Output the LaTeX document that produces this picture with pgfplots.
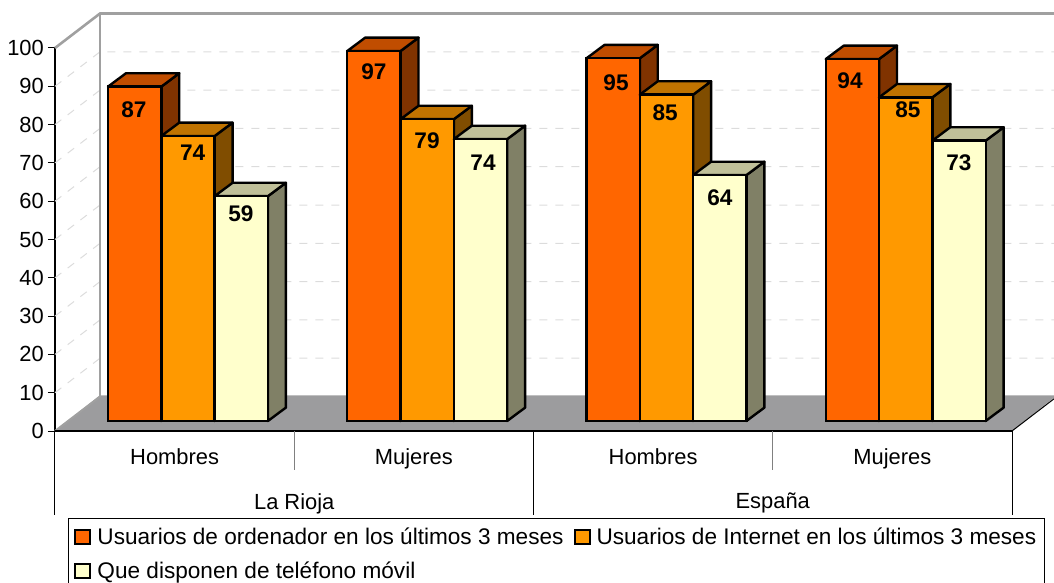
\documentclass[border=0pt]{standalone}
\usepackage{fontspec}
\setmainfont{Liberation Sans}
\usepackage{pgfplots}
\pgfplotsset{compat=1.18}
\definecolor{cA}{HTML}{FF6600}\definecolor{cAt}{HTML}{C04D00}\definecolor{cAs}{HTML}{803300}
\definecolor{cB}{HTML}{FF9900}\definecolor{cBt}{HTML}{C07300}\definecolor{cBs}{HTML}{804D00}
\definecolor{cC}{HTML}{FFFFCC}\definecolor{cCt}{HTML}{C0C099}\definecolor{cCs}{HTML}{808066}
\definecolor{wall}{HTML}{A0A0A0}\definecolor{floorc}{HTML}{9C9C9E}\definecolor{gridc}{HTML}{DCDCDC}
\newcommand\faces[4]{%
  \pgfmathsetmacro\xb{#1+0.2228}\pgfmathsetmacro\xc{#1+0.0752}%
  \pgfmathsetmacro\xd{#1+0.2980}\pgfmathsetmacro\vt{#2+3.5}%
  \addplot[forget plot,draw=black,line width=2.4pt,line join=round,fill=#4,yshift=10pt] coordinates {(\xb,0)(\xb,#2)(\xd,\vt)(\xd,3.5)} --cycle;
  \addplot[forget plot,draw=black,line width=2.4pt,line join=round,fill=#3,yshift=10pt] coordinates {(#1,#2)(\xb,#2)(\xd,\vt)(\xc,\vt)} --cycle;
}
\pgfplotsset{front/.style={forget plot,ybar,bar width=53.3pt,bar shift=0pt,draw=black,line width=2.4pt,yshift=10pt}}
\pgfplotsset{griddash/.style={forget plot,gridc,line width=1pt,dash pattern=on 8pt off 8pt}}
\begin{document}
\begin{tikzpicture}[x=1pt,y=1pt]
\useasboundingbox (0,0) rectangle (1054,582);
\begin{axis}[
  at={(55pt,151pt)},anchor=south west,
  scale only axis,width=957pt,height=383pt,
  xmin=0,xmax=4,ymin=0,ymax=100,clip=false,
  axis lines=left,axis line style={-,black,line width=1.2pt},
  ytick={0,10,...,100},ytick align=outside,
  xtick={0.5,1.5,2.5,3.5},xticklabels={Hombres,Mujeres,Hombres,Mujeres},
  extra x ticks={1,3},extra x tick labels={La Rioja,España},
  extra x tick style={major tick length=0pt,tick label style={yshift=-48pt}},
  major tick length=7pt,
  x tick style={draw=none},
  y tick style={black,line width=1pt},
  tick label style={font=\fontsize{21.9}{24}\selectfont},
  /pgf/number format/assume math mode=true,
  yticklabel style={inner sep=0pt,xshift=-4pt},
  xticklabel style={inner sep=0pt,yshift=-14pt},
  legend style={at={(axis cs:0.0543,-22.7)},anchor=north west,draw=black,line width=1pt,
    font=\fontsize{22.6}{25}\selectfont,inner xsep=6pt,inner ysep=7pt,
    /tikz/every even column/.append style={column sep=8pt},
    row sep=12pt},
  legend columns=2,legend cell align=left,
]
\addlegendimage{legend image code/.code={\draw[fill=cA,draw=black,line width=2pt] (0pt,-7pt) rectangle (15pt,7pt);}}
\addlegendimage{legend image code/.code={\draw[fill=cB,draw=black,line width=2pt] (0pt,-7pt) rectangle (15pt,7pt);}}
\addlegendimage{legend image code/.code={\draw[fill=cC,draw=black,line width=2pt] (0pt,-7pt) rectangle (15pt,7pt);}}
% floor and walls
\addplot[forget plot,fill=floorc,draw=none] coordinates {(0,0)(0.188,9.3)(4.188,9.3)(4,0)} --cycle;
\pgfplotsinvokeforeach{10,20,...,90}{
  \pgfmathsetmacro\vv{#1+9}
  \addplot[griddash] coordinates {(0,#1)(0.188,\vv)(4.188,\vv)};
}
\addplot[forget plot,wall,line width=2.6pt] coordinates {(0,100)(0.188,109)(4.188,109)};
\addplot[forget plot,wall,line width=2.6pt] coordinates {(0.188,9)(0.188,109)};
\addplot[forget plot,wall,line width=2pt] coordinates {(0,0)(0.188,9)};
\addplot[forget plot,black,line width=2pt] coordinates {(0,0)(4,0)};
\addplot[forget plot,black,line width=1pt] coordinates {(4,0)(4.188,9)};
% category separators
\addplot[forget plot,black,line width=1pt] coordinates {(0,0)(0,-21.9)};
\addplot[forget plot,black,line width=1pt] coordinates {(2,0)(2,-21.9)};
\addplot[forget plot,black,line width=1pt] coordinates {(4,0)(4,-21.9)};
\addplot[forget plot,gray,line width=1pt] coordinates {(1,0)(1,-10.2)};
\addplot[forget plot,gray,line width=1pt] coordinates {(3,0)(3,-10.2)};
% series 1
\faces{0.2215}{87.3}{cAt}{cAs}\faces{1.2215}{96.6}{cAt}{cAs}\faces{2.2215}{94.7}{cAt}{cAs}\faces{3.2215}{94.5}{cAt}{cAs}
\addplot[front,fill=cA] coordinates {(0.333,87.3)(1.333,96.6)(2.333,94.7)(3.333,94.5)};
% series 2
\faces{0.4443}{74.4}{cBt}{cBs}\faces{1.4443}{78.8}{cBt}{cBs}\faces{2.4443}{85.2}{cBt}{cBs}\faces{3.4443}{84.5}{cBt}{cBs}
\addplot[front,fill=cB] coordinates {(0.556,74.4)(1.556,78.8)(2.556,85.2)(3.556,84.5)};
% series 3
\faces{0.6671}{58.7}{cCt}{cCs}\faces{1.6671}{73.6}{cCt}{cCs}\faces{2.6671}{64.2}{cCt}{cCs}\faces{3.6671}{73.2}{cCt}{cCs}
\addplot[front,fill=cC] coordinates {(0.779,58.7)(1.779,73.6)(2.779,64.2)(3.779,73.2)};
% data labels
\addplot[forget plot,only marks,mark=none,point meta=explicit symbolic,
  nodes near coords,nodes near coords align={center},
  every node near coord/.append style={font=\fontsize{22.6}{24}\selectfont\bfseries,text=black,inner sep=0pt,anchor=center}]
  coordinates {
  (0.330,83.8)[87] (0.575,72.6)[74] (0.777,56.7)[59]
  (1.333,93.7)[97] (1.555,75.7)[79] (1.789,70.0)[74]
  (2.345,90.9)[95] (2.550,83.0)[85] (2.779,60.8)[64]
  (3.323,91.4)[94] (3.565,83.8)[85] (3.778,70.0)[73]
  };
\legend{\hspace*{4pt}Usuarios de ordenador en los últimos 3 meses,\hspace*{4pt}Usuarios de Internet en los últimos 3 meses\hspace{30pt},\hspace*{4pt}Que disponen de teléfono móvil}
\end{axis}
\end{tikzpicture}
\end{document}
